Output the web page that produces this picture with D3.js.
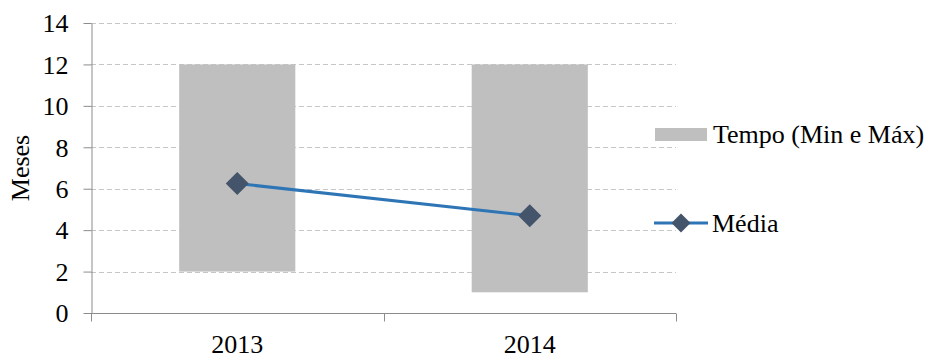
<!DOCTYPE html>
<html>
<head>
<meta charset="utf-8">
<script src="https://cdn.jsdelivr.net/npm/d3@7"></script>
<style>
  html, body { margin: 0; padding: 0; background: #fff; }
  svg { display: block; }
  svg text { font-family: "Liberation Serif", "Times New Roman", "DejaVu Serif", serif; }
</style>
</head>
<body>
<svg id="chart" width="930" height="353"></svg>
<script>
// Data
const years = ["2013", "2014"];
const minValues = [2, 1];
const maxValues = [12, 12];
const meanValues = [6.25, 4.7];
const yTicks = [0, 2, 4, 6, 8, 10, 12, 14];
const legendLabels = ["Tempo (Min e Máx)", "Média"];
const axisTitle = "Meses";

const serif = "Liberation Serif, Times New Roman, serif";
const svg = d3.select("#chart").attr("font-family", serif);
const fontSize = 26;
const plot = { left: 91, right: 676, top: 23, bottom: 313 };

const x = d3.scaleBand().domain(years).range([plot.left, plot.right]).paddingInner(0).paddingOuter(0);
const y = d3.scaleLinear().domain([0, 14]).range([plot.bottom, plot.top]);

// Dashed horizontal gridlines
svg.append("g")
  .selectAll("line")
  .data(yTicks.filter(d => d > 0))
  .join("line")
  .attr("x1", plot.left)
  .attr("x2", plot.right)
  .attr("y1", d => Math.round(y(d)) + 0.5)
  .attr("y2", d => Math.round(y(d)) + 0.5)
  .attr("stroke", "#c6c6c6")
  .attr("stroke-width", 1)
  .attr("stroke-dasharray", "5,3");

// Floating bars from min to max
const barW = x.bandwidth() * 0.397;
svg.append("g")
  .selectAll("rect")
  .data(years)
  .join("rect")
  .attr("x", d => x(d) + (x.bandwidth() - barW) / 2)
  .attr("width", barW)
  .attr("y", (d, i) => y(maxValues[i]))
  .attr("height", (d, i) => y(minValues[i]) - y(maxValues[i]))
  .attr("fill", "#bfbfbf");

// Y axis
const yAxis = d3.axisLeft(y).tickValues(yTicks).tickSizeInner(8).tickSizeOuter(0).tickPadding(15);
const gy = svg.append("g")
  .attr("transform", `translate(${plot.left + 0.5},0)`)
  .call(yAxis)
  .attr("font-family", serif)
  .attr("font-size", fontSize);
gy.select(".domain").attr("stroke", "#8c8c8c");
gy.selectAll(".tick line").attr("stroke", "#8c8c8c");
gy.selectAll(".tick text")
  .attr("font-family", serif)
  .attr("font-size", fontSize)
  .attr("fill", "#000")
  .attr("dy", "0.34em");

// X axis with ticks at category boundaries
const gx = svg.append("g").attr("transform", `translate(0,${plot.bottom + 0.5})`);
gx.append("line")
  .attr("x1", plot.left).attr("x2", plot.right)
  .attr("stroke", "#8c8c8c");
const bounds = years.map(d => x(d)).concat([x(years[years.length - 1]) + x.bandwidth()]);
gx.selectAll("line.tk")
  .data(bounds)
  .join("line")
  .attr("class", "tk")
  .attr("x1", d => Math.round(d) + 0.5)
  .attr("x2", d => Math.round(d) + 0.5)
  .attr("y1", 0).attr("y2", 8)
  .attr("stroke", "#8c8c8c");
gx.selectAll("text")
  .data(years)
  .join("text")
  .attr("x", d => x(d) + x.bandwidth() / 2)
  .attr("y", 39)
  .attr("text-anchor", "middle")
  .attr("font-family", serif)
  .attr("font-size", fontSize)
  .attr("fill", "#000")
  .text(d => d);

// Axis title
svg.append("text")
  .attr("transform", "translate(29,168) rotate(-90)")
  .attr("text-anchor", "middle")
  .attr("font-family", serif)
  .attr("font-size", fontSize)
  .attr("fill", "#000")
  .text(axisTitle);

// Mean line with diamond markers
const line = d3.line()
  .x((d, i) => x(years[i]) + x.bandwidth() / 2)
  .y(d => y(d));
svg.append("path")
  .datum(meanValues)
  .attr("d", line)
  .attr("fill", "none")
  .attr("stroke", "#2e75b6")
  .attr("stroke-width", 3);

const diamond = (s) => `M0,${-s}L${s},0L0,${s}L${-s},0Z`;
svg.append("g")
  .selectAll("path")
  .data(meanValues)
  .join("path")
  .attr("transform", (d, i) => `translate(${x(years[i]) + x.bandwidth() / 2},${y(d)})`)
  .attr("d", diamond(11.5))
  .attr("fill", "#44546a");

// Legend
const lg = svg.append("g");
lg.append("rect")
  .attr("x", 655).attr("y", 128)
  .attr("width", 52).attr("height", 13)
  .attr("fill", "#bfbfbf");
lg.append("text")
  .attr("x", 713).attr("y", 143)
  .attr("font-family", serif)
  .attr("font-size", fontSize)
  .attr("fill", "#000")
  .text(legendLabels[0]);

lg.append("line")
  .attr("x1", 654).attr("x2", 708)
  .attr("y1", 223).attr("y2", 223)
  .attr("stroke", "#2e75b6")
  .attr("stroke-width", 3);
lg.append("path")
  .attr("transform", "translate(681,223)")
  .attr("d", diamond(9.5))
  .attr("fill", "#44546a");
lg.append("text")
  .attr("x", 712).attr("y", 232)
  .attr("font-family", serif)
  .attr("font-size", fontSize)
  .attr("fill", "#000")
  .text(legendLabels[1]);
</script>
</body>
</html>
